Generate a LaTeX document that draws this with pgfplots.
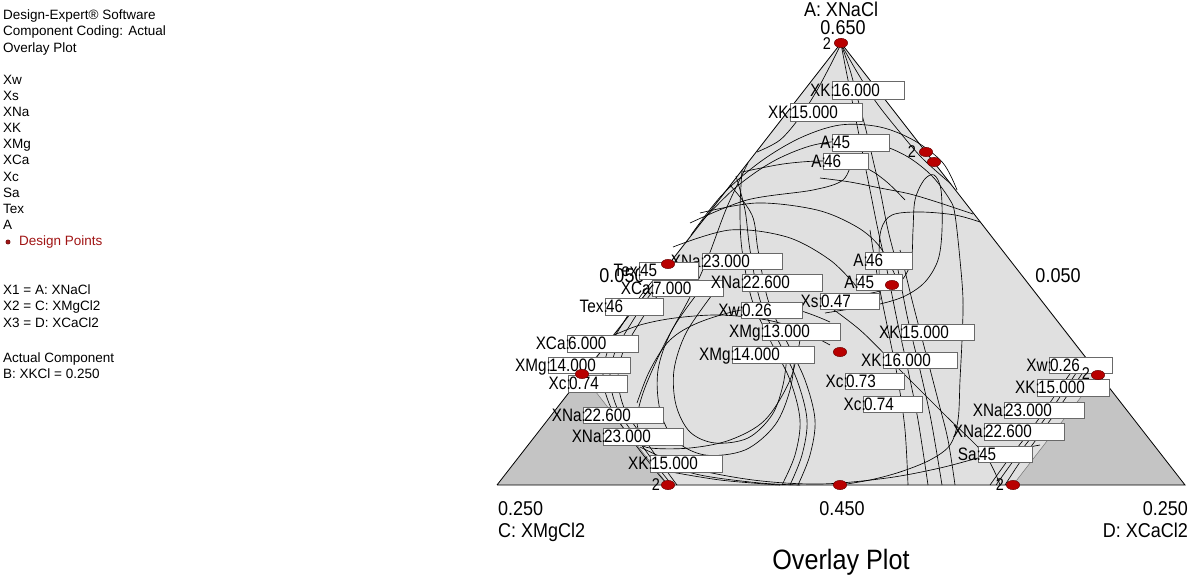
\documentclass[border=0pt]{standalone}
\usepackage{pgfplots}
\pgfplotsset{compat=1.18}
\usepackage{fontspec}
\setmainfont{Liberation Sans}
\newfontfamily\cond[FakeStretch=0.85]{Liberation Sans}
\newfontfamily\condb[FakeStretch=0.9]{Liberation Sans}
\definecolor{lightreg}{RGB}{224,224,224}
\definecolor{darkreg}{RGB}{196,196,196}
\definecolor{dpred}{RGB}{185,0,0}
\definecolor{dpdark}{RGB}{110,0,0}
\definecolor{boxgray}{RGB}{105,105,105}
\definecolor{legred}{RGB}{160,20,20}
\tikzset{cv/.style={black, line width=0.65pt, smooth, tension=0.55}}
% box label: x1,y1,x2,y2,prefix,value
\newcommand{\lab}[6]{%
 \draw[boxgray, fill=white, line width=0.9pt] (axis cs:#1,#2) rectangle (axis cs:#3,#4);
 \node[anchor=base west, inner sep=0pt, font=\cond\fontsize{18}{18}\selectfont] at (axis cs:{#1+1},{(#2+#4)/2+6.3}) {#6};
 \node[anchor=base east, inner sep=0pt, font=\cond\fontsize{18}{18}\selectfont] at (axis cs:{#1+3},{(#2+#4)/2+6.3}) {#5};
}
\newcommand{\ltxt}[2]{\node[anchor=base west, inner sep=0pt, font=\fontsize{13.5}{16}\selectfont] at (axis cs:3,#1) {#2};}
\begin{document}
\begin{tikzpicture}
\begin{axis}[width=1193pt, height=577pt, scale only axis,
  xmin=0, xmax=1193, ymin=0, ymax=577, y dir=reverse,
  axis lines=none, clip=false]
% regions
\addplot[fill=darkreg, draw=none] coordinates {(497,485) (841,43) (1185,485) (497,485)};
\addplot[fill=lightreg, draw=none] coordinates {(841,43) (582,374) (668,485) (1013,485) (1098,375) (841,43)};
\addplot[draw=black!55, line width=0.5pt] coordinates {(582,374) (668,485)};
\addplot[draw=black!55, line width=0.5pt] coordinates {(1098,375) (1013,485)};
% contour curves
\addplot[cv] coordinates {(841,44) (830,66) (816,92) (800,117) (780,140) (757,152)};
\addplot[cv] coordinates {(841,44) (846,70) (852,100) (858,130) (864,160) (870,190) (878,230) (887,270) (897,320) (908,370) (918,420) (928,485)};
\addplot[cv] coordinates {(841,44) (850,70) (858,100) (866,130) (873,160) (880,190) (888,230) (898,270) (908,320) (920,370) (931,420) (942,485)};
\addplot[cv] coordinates {(841,44) (857,72) (876,102) (898,130) (922,158) (951,184)};
\addplot[cv] coordinates {(691,235) (722,195) (760,162) (800,138) (840,125) (880,127) (915,141) (943,163) (957,190)};
\addplot[cv] coordinates {(702,221) (735,188) (772,162) (810,146) (845,141) (880,145) (908,157) (932,176) (950,200) (955,215) (960,260) (963,300) (962,340) (960,380) (958,420) (950,445) (930,460) (900,472) (870,480) (840,485)};
\addplot[cv] coordinates {(742,172) (783,164) (820,161) (850,163) (870,170) (888,183) (905,200)};
\addplot[cv] coordinates {(850,297) (880,291) (900,282) (911,262) (913,230) (915,200) (924,180) (934,175) (941,190) (942,230) (938,260) (925,282) (905,296) (880,304) (850,309) (825,313)};
\addplot[cv] coordinates {(820,178) (850,182) (880,188) (910,194) (940,203) (973,214)};
\addplot[cv] coordinates {(880,300) (879,260) (881,230) (892,215) (920,212) (955,215) (980,222)};
\addplot[cv] coordinates {(690,223) (747,200) (813,190) (843,180) (852,160)};
\addplot[cv] coordinates {(673,247) (730,230) (787,237) (830,260) (857,287)};
\addplot[cv] coordinates {(700,213) (757,203) (817,210) (857,227) (880,247) (895,275)};
\addplot[cv] coordinates {(748,163) (727,207) (707,260) (690,297) (663,347) (643,393) (637,423) (645,445)};
\addplot[cv] coordinates {(742,170) (740,210) (742,250) (752,300) (770,340) (790,380) (800,420) (795,455) (782,485)};
\addplot[cv] coordinates {(736,176) (745,210) (750,250) (760,300) (778,340) (797,380) (807,420) (802,455) (790,485)};
\addplot[cv] coordinates {(730,185) (752,215) (758,250) (768,300) (786,340) (805,380) (815,420) (810,455) (798,485)};
\addplot[cv] coordinates {(612,336) (640,325) (675,318) (720,315) (767,320) (800,330) (830,345)};
\addplot[cv] coordinates {(637,403) (650,370) (670,340) (700,322) (747,309) (793,309) (830,322)};
\addplot[cv] coordinates {(670,262) (645,290) (625,320) (608,350) (603,380) (612,410) (632,440) (655,470) (668,485)};
\addplot[cv] coordinates {(676,262) (652,292) (632,322) (615,352) (610,380) (618,410) (638,440) (660,470) (672,485)};
\addplot[cv] coordinates {(682,262) (660,292) (640,322) (623,352) (618,380) (625,410) (645,440) (666,470) (677,485)};
\addplot[cv] coordinates {(700,290) (672,330) (658,370) (660,410) (675,440) (705,455) (745,450) (775,425) (790,390) (795,355)};
\addplot[cv] coordinates {(712,295) (686,333) (674,370) (676,405) (690,432) (715,443) (748,438) (772,415) (783,385) (787,355)};
\addplot[cv] coordinates {(800,340) (790,380) (765,420) (730,440) (690,448) (650,448) (634,441)};
\addplot[cv] coordinates {(640,447) (687,467) (753,480) (820,484) (887,478) (940,468) (990,455) (1040,445)};
\addplot[cv] coordinates {(650,460) (700,475) (760,483) (800,485)};
\addplot[cv] coordinates {(660,470) (720,480) (780,485)};
\addplot[cv] coordinates {(820,300) (860,330) (900,370) (945,415) (985,455) (1000,485)};
\addplot[cv] coordinates {(1080,360) (1062,385) (1045,410) (1027,435) (1008,460) (990,485)};
\addplot[cv] coordinates {(1085,360) (1068,385) (1051,410) (1033,435) (1014,460) (996,485)};
\addplot[cv] coordinates {(1090,362) (1073,387) (1056,412) (1038,437) (1020,462) (1005,485)};
\addplot[cv] coordinates {(870,230) (878,280) (888,330) (898,380) (905,430) (908,485)};
\addplot[cv] coordinates {(900,250) (912,300) (925,350) (938,400) (948,440) (955,485)};
% triangle outline
\addplot[black, line width=0.8pt] coordinates {(497,485) (841,43) (1185,485) (497,485)};
% left tick label partly hidden
\node[font=\condb\fontsize{20}{20}\selectfont, inner sep=0pt, anchor=base] at (axis cs:622,283) {0.050};
% labels
\lab{832}{81}{904}{99}{XK:}{16.000}
\lab{790}{103}{862}{121}{XK:}{15.000}
\lab{832}{134}{889}{151}{A:}{45}
\lab{823}{153}{868}{169}{A:}{46}
\lab{702}{253}{782}{269}{XNa:}{23.000}
\lab{639}{262}{698}{279}{Tex:}{45}
\lab{652}{280}{723}{296}{XCa:}{7.000}
\lab{742}{274}{822}{291}{XNa:}{22.600}
\lab{605}{298}{663}{315}{Tex:}{46}
\lab{820}{293}{879}{309}{Xs:}{0.47}
\lab{741}{302}{802}{318}{Xw:}{0.26}
\lab{762}{323}{840}{340}{XMg:}{13.000}
\lab{732}{346}{814}{363}{XMg:}{14.000}
\lab{865}{252}{912}{269}{A:}{46}
\lab{856}{274}{902}{290}{A:}{45}
\lab{901}{324}{974}{340}{XK:}{15.000}
\lab{883}{352}{957}{368}{XK:}{16.000}
\lab{845}{373}{904}{389}{Xc:}{0.73}
\lab{863}{396}{922}{412}{Xc:}{0.74}
\lab{567}{335}{638}{352}{XCa:}{6.000}
\lab{548}{357}{630}{373}{XMg:}{14.000}
\lab{568}{375}{627}{392}{Xc:}{0.74}
\lab{583}{407}{663}{423}{XNa:}{22.600}
\lab{603}{428}{683}{445}{XNa:}{23.000}
\lab{650}{455}{722}{472}{XK:}{15.000}
\lab{1049}{357}{1112}{373}{Xw:}{0.26}
\lab{1037}{379}{1109}{396}{XK:}{15.000}
\lab{1004}{402}{1084}{418}{XNa:}{23.000}
\lab{984}{423}{1064}{440}{XNa:}{22.600}
\lab{978}{446}{1032}{462}{Sa:}{45}
% "2" replicate markers
\node[anchor=base east, inner sep=0pt, font=\cond\fontsize{17}{17}\selectfont] at (axis cs:831,50) {2};
\node[anchor=base east, inner sep=0pt, font=\cond\fontsize{17}{17}\selectfont] at (axis cs:916,158) {2};
\node[anchor=base east, inner sep=0pt, font=\cond\fontsize{17}{17}\selectfont] at (axis cs:660,490) {2};
\node[anchor=base east, inner sep=0pt, font=\cond\fontsize{17}{17}\selectfont] at (axis cs:1004,490) {2};
\node[anchor=base east, inner sep=0pt, font=\cond\fontsize{17}{17}\selectfont] at (axis cs:1090,379) {2};
% design points
\addplot[only marks, mark=*, mark size=4.6pt, mark options={xscale=1.45, fill=dpred, draw=dpdark, line width=0.5pt}]
 coordinates {(841,43) (926,152) (934,162) (668,264) (892,285) (840,352) (582,374) (1098,375) (668,485) (840,485) (1013,485)};
% vertex and tick labels
\node[anchor=base, inner sep=0pt, font=\condb\fontsize{20}{20}\selectfont] at (axis cs:841,17) {A: XNaCl};
\node[anchor=base, inner sep=0pt, font=\condb\fontsize{20}{20}\selectfont] at (axis cs:843,35) {0.650};
\node[anchor=base, inner sep=0pt, font=\condb\fontsize{20}{20}\selectfont] at (axis cs:1058,283) {0.050};
\node[anchor=base west, inner sep=0pt, font=\condb\fontsize{20}{20}\selectfont] at (axis cs:498,515) {0.250};
\node[anchor=base west, inner sep=0pt, font=\condb\fontsize{20}{20}\selectfont] at (axis cs:498,537) {C: XMgCl2};
\node[anchor=base, inner sep=0pt, font=\condb\fontsize{20}{20}\selectfont] at (axis cs:842,515) {0.450};
\node[anchor=base east, inner sep=0pt, font=\condb\fontsize{20}{20}\selectfont] at (axis cs:1188,515) {0.250};
\node[anchor=base east, inner sep=0pt, font=\condb\fontsize{20}{20}\selectfont] at (axis cs:1188,537) {D: XCaCl2};
\node[anchor=base, inner sep=0pt, font=\condb\fontsize{28}{28}\selectfont] at (axis cs:841,569) {Overlay Plot};
% left text block
\ltxt{20}{Design-Expert® Software}
\ltxt{36}{Component Coding: Actual}
\ltxt{53}{Overlay Plot}
\ltxt{85}{Xw}
\ltxt{101}{Xs}
\ltxt{117}{XNa}
\ltxt{133}{XK}
\ltxt{149}{XMg}
\ltxt{165}{XCa}
\ltxt{182}{Xc}
\ltxt{198}{Sa}
\ltxt{214}{Tex}
\ltxt{230}{A}
\addplot[only marks, mark=*, mark size=2.2pt, mark options={fill=legred, draw=legred!60!black}] coordinates {(8,242)};
\node[anchor=base west, inner sep=0pt, font=\fontsize{13.5}{16}\selectfont, text=legred] at (axis cs:19,246) {Design Points};
\ltxt{294}{X1 = A: XNaCl}
\ltxt{310}{X2 = C: XMgCl2}
\ltxt{327}{X3 = D: XCaCl2}
\ltxt{362}{Actual Component}
\ltxt{378}{B: XKCl = 0.250}
\end{axis}
\pgfresetboundingbox
\path[use as bounding box] (0,0) rectangle (1193pt,577pt);
\end{tikzpicture}
\end{document}
